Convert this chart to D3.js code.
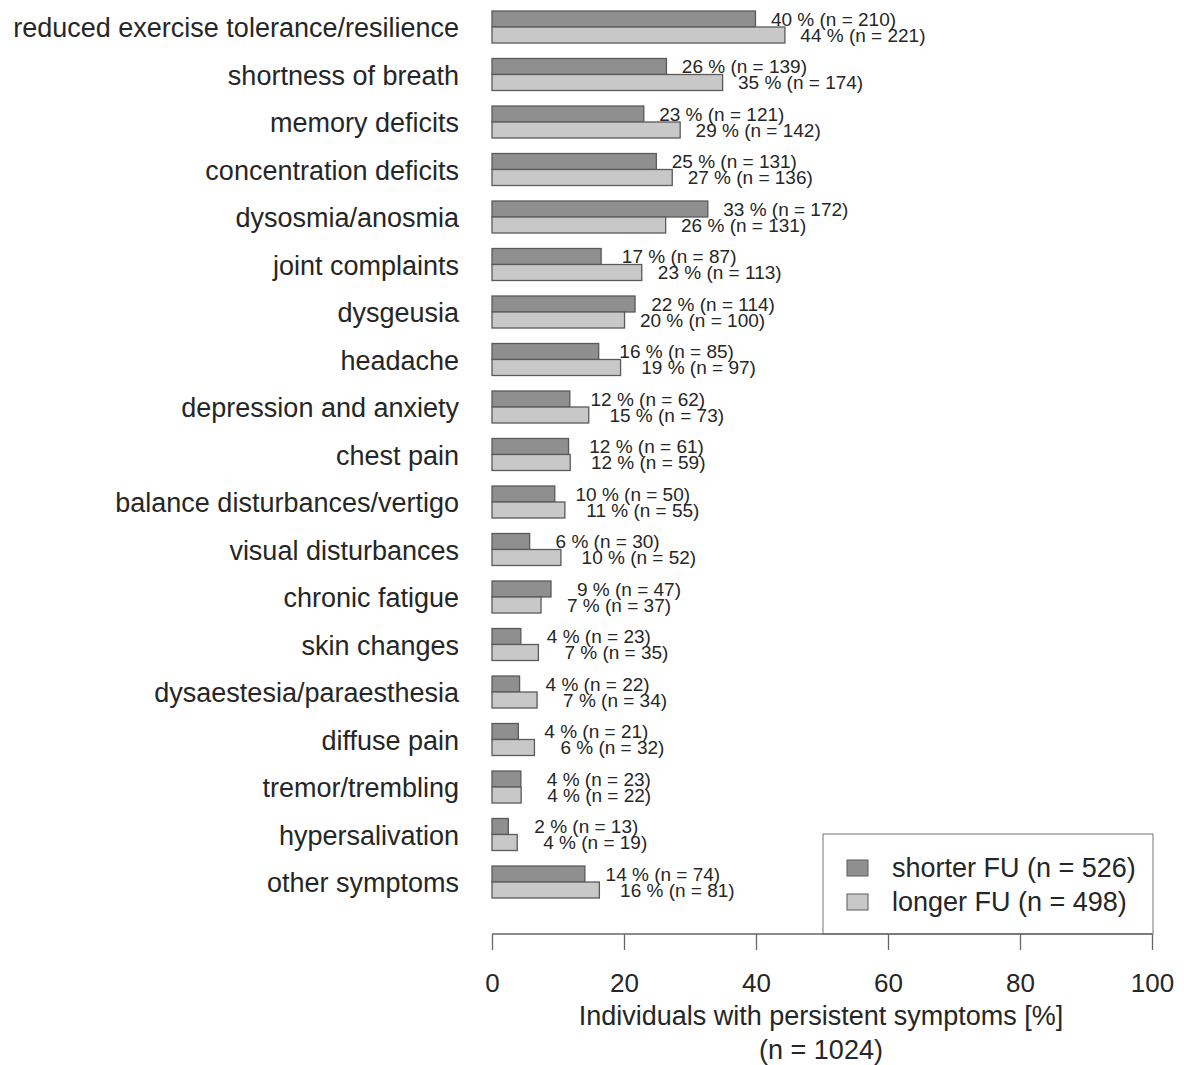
<!DOCTYPE html>
<html>
<head>
<meta charset="utf-8">
<script src="https://cdn.jsdelivr.net/npm/d3@7"></script>
<style>
  html, body { margin: 0; padding: 0; background: #fff; }
  svg { display: block; font-family: "Liberation Sans", Arial, sans-serif; }
</style>
</head>
<body>
<svg id="chart" width="1184" height="1065"></svg>
<script>
const categories = [
  "reduced exercise tolerance/resilience",
  "shortness of breath",
  "memory deficits",
  "concentration deficits",
  "dysosmia/anosmia",
  "joint complaints",
  "dysgeusia",
  "headache",
  "depression and anxiety",
  "chest pain",
  "balance disturbances/vertigo",
  "visual disturbances",
  "chronic fatigue",
  "skin changes",
  "dysaestesia/paraesthesia",
  "diffuse pain",
  "tremor/trembling",
  "hypersalivation",
  "other symptoms"
];
const seriesNames = ["shorter FU (n = 526)", "longer FU (n = 498)"];
// percentages (bar lengths)
const shorterPct = [39.92, 26.43, 23.00, 24.90, 32.70, 16.54, 21.67, 16.16, 11.79, 11.60, 9.51, 5.70, 8.94, 4.37, 4.18, 3.99, 4.37, 2.47, 14.07];
const longerPct  = [44.38, 34.94, 28.51, 27.31, 26.31, 22.69, 20.08, 19.48, 14.66, 11.85, 11.04, 10.44, 7.43, 7.03, 6.83, 6.43, 4.42, 3.82, 16.27];
// counts shown in labels
const shorterN = [210, 139, 121, 131, 172, 87, 114, 85, 62, 61, 50, 30, 47, 23, 22, 21, 23, 13, 74];
const longerN  = [221, 174, 142, 136, 131, 113, 100, 97, 73, 59, 55, 52, 37, 35, 34, 32, 22, 19, 81];
const xTicks = [0, 20, 40, 60, 80, 100];
const xTitle = "Individuals with persistent symptoms [%]";
const xSubtitle = "(n = 1024)";

const colors = ["#8f8f8f", "#c8c8c8"];
const strokeCol = "#5a5a5a";
const textCol = "#262626";

const svg = d3.select("#chart");

const x = d3.scaleLinear().domain([0, 100]).range([492, 1152]);
const pIn = 15.5 / 47.5;
const y = d3.scaleBand().domain(categories).range([3.25, 3.25 + 19 * 47.5])
  .paddingInner(pIn).paddingOuter(pIn / 2);
const ySub = d3.scaleBand().domain([0, 1]).range([0, y.bandwidth()]);

const rows = categories.map((c, i) => ({
  cat: c,
  vals: [
    { s: 0, p: shorterPct[i], n: shorterN[i] },
    { s: 1, p: longerPct[i], n: longerN[i] }
  ]
}));

const g = svg.append("g");
const grp = g.selectAll("g.row").data(rows).join("g")
  .attr("class", "row")
  .attr("transform", d => `translate(0,${y(d.cat)})`);

grp.selectAll("rect").data(d => d.vals).join("rect")
  .attr("x", x(0))
  .attr("y", d => ySub(d.s))
  .attr("width", d => x(d.p) - x(0))
  .attr("height", ySub.bandwidth())
  .attr("fill", d => colors[d.s])
  .attr("stroke", strokeCol)
  .attr("stroke-width", 1.3);

grp.selectAll("text.val").data(d => d.vals).join("text")
  .attr("class", "val")
  .attr("x", d => x(d.p) + 78)
  .attr("y", d => ySub(d.s) + ySub.bandwidth() / 2)
  .attr("text-anchor", "middle")
  .attr("dominant-baseline", "central")
  .attr("font-size", 19)
  .attr("fill", textCol)
  .text(d => `${Math.round(d.p)} % (n = ${d.n})`);

// category labels
g.selectAll("text.cat").data(categories).join("text")
  .attr("class", "cat")
  .attr("x", 459)
  .attr("y", d => y(d) + y.bandwidth() / 2 + 1)
  .attr("text-anchor", "end")
  .attr("dominant-baseline", "central")
  .attr("font-size", 27)
  .attr("fill", textCol)
  .text(d => d);

// legend box
const lg = svg.append("g");
lg.append("rect")
  .attr("x", 823).attr("y", 834)
  .attr("width", 330).attr("height", 100)
  .attr("fill", "#fff")
  .attr("stroke", "#8a8a8a").attr("stroke-width", 1.2);
seriesNames.forEach((name, i) => {
  const cy = 868 + i * 34;
  lg.append("rect")
    .attr("x", 847).attr("y", cy - 8)
    .attr("width", 21).attr("height", 16)
    .attr("fill", colors[i])
    .attr("stroke", strokeCol).attr("stroke-width", 1);
  lg.append("text")
    .attr("x", 892).attr("y", cy)
    .attr("dominant-baseline", "central")
    .attr("font-size", 27)
    .attr("fill", textCol)
    .text(name);
});

// x axis
const axisG = svg.append("g")
  .attr("transform", "translate(0,934)")
  .call(d3.axisBottom(x).tickValues(xTicks).tickSize(16).tickPadding(24).tickFormat(d3.format("d")));
axisG.select(".domain").attr("stroke", "#666").attr("stroke-width", 1.3)
  .attr("d", `M${x(0)},0H${x(100)}`);
axisG.selectAll(".tick line").attr("stroke", "#666").attr("stroke-width", 1.3);
axisG.selectAll(".tick text")
  .attr("font-size", 26)
  .attr("font-family", "'Liberation Sans', Arial, sans-serif")
  .attr("fill", textCol);

svg.append("text")
  .attr("x", 821).attr("y", 1016)
  .attr("text-anchor", "middle")
  .attr("dominant-baseline", "central")
  .attr("font-size", 27)
  .attr("fill", textCol)
  .text(xTitle);
svg.append("text")
  .attr("x", 821).attr("y", 1050)
  .attr("text-anchor", "middle")
  .attr("dominant-baseline", "central")
  .attr("font-size", 27)
  .attr("fill", textCol)
  .text(xSubtitle);
</script>
</body>
</html>
